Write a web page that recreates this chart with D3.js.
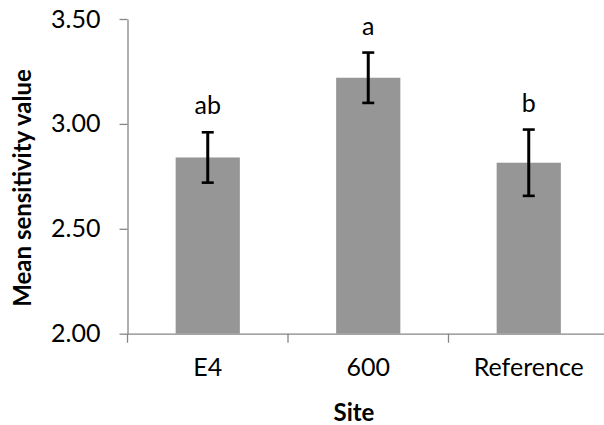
<!DOCTYPE html>
<html>
<head>
<meta charset="utf-8">
<script src="https://cdn.jsdelivr.net/npm/d3@7"></script>
<style>
  html, body { margin: 0; padding: 0; background: #fff; }
  svg { display: block; }
  text { font-family: Lato, "Open Sans", sans-serif; fill: #000; }
</style>
</head>
<body>
<svg id="chart" width="604" height="425"></svg>
<script>
// Mean sensitivity per site, with standard error and significance letters
const sites = ["E4", "600", "Reference"];
const means = [2.84, 3.22, 2.815];
const errors = [0.12, 0.12, 0.158];
const letters = ["ab", "a", "b"];
const yTicks = [2.00, 2.50, 3.00, 3.50];

const svg = d3.select("#chart");
const plotLeft = 127.5, plotRight = 609, plotTop = 19, plotBottom = 333.7;
const axisColor = "#868686";
const tickFont = 25, titleFont = 24;

const x = d3.scaleBand().domain(sites).range([plotLeft, plotRight])
  .paddingInner(0.6).paddingOuter(0.3);
const y = d3.scaleLinear().domain([2, 3.5]).range([plotBottom, plotTop]);

// Y axis
const yAxis = svg.append("g")
  .attr("transform", `translate(${plotLeft},0)`)
  .call(d3.axisLeft(y).tickValues(yTicks).tickFormat(d3.format(".2f"))
    .tickSize(8).tickPadding(19).tickSizeOuter(0));
yAxis.select(".domain").attr("stroke", axisColor).attr("stroke-width", 1.3);
yAxis.selectAll(".tick line").attr("stroke", axisColor).attr("stroke-width", 1.3);
yAxis.selectAll(".tick text").attr("font-size", tickFont).attr("font-family", "Lato").attr("fill", "#000");

// X axis: labels centred on bands, ticks on band boundaries
const xAxis = svg.append("g")
  .attr("transform", `translate(0,${plotBottom})`)
  .call(d3.axisBottom(x).tickSize(0).tickPadding(25).tickSizeOuter(0));
xAxis.select(".domain").attr("stroke", axisColor).attr("stroke-width", 1.3);
xAxis.selectAll(".tick text").attr("font-size", tickFont).attr("font-family", "Lato").attr("fill", "#000");

const boundaries = d3.range(sites.length + 1).map(i => plotLeft + i * x.step());
svg.append("g").selectAll("line").data(boundaries).join("line")
  .attr("x1", d => d).attr("x2", d => d)
  .attr("y1", plotBottom).attr("y2", plotBottom + 9)
  .attr("stroke", axisColor).attr("stroke-width", 1.3);

// Bars
svg.append("g").selectAll("rect").data(sites).join("rect")
  .attr("x", d => x(d))
  .attr("width", x.bandwidth())
  .attr("y", (d, i) => y(means[i]))
  .attr("height", (d, i) => y(2) - y(means[i]))
  .attr("fill", "#969696");

// Error bars
const eb = svg.append("g").attr("stroke", "#000");
sites.forEach((s, i) => {
  const cx = x(s) + x.bandwidth() / 2;
  const hi = y(means[i] + errors[i]), lo = y(means[i] - errors[i]);
  eb.append("line").attr("x1", cx).attr("x2", cx).attr("y1", hi).attr("y2", lo).attr("stroke-width", 3);
  [hi, lo].forEach(v => eb.append("line")
    .attr("x1", cx - 6).attr("x2", cx + 6).attr("y1", v).attr("y2", v).attr("stroke-width", 2.6));
});

// Significance letters
svg.append("g").selectAll("text").data(sites).join("text")
  .attr("x", d => x(d) + x.bandwidth() / 2)
  .attr("y", (d, i) => y(means[i] + errors[i]) - 18)
  .attr("text-anchor", "middle")
  .attr("font-size", tickFont)
  .text((d, i) => letters[i]);

// Axis titles
svg.append("text")
  .attr("transform", "translate(31,188) rotate(-90)")
  .attr("text-anchor", "middle")
  .attr("font-size", titleFont).attr("font-weight", "bold")
  .text("Mean sensitivity value");

svg.append("text")
  .attr("x", 354).attr("y", 421)
  .attr("text-anchor", "middle")
  .attr("font-size", titleFont).attr("font-weight", "bold")
  .text("Site");
</script>
</body>
</html>
